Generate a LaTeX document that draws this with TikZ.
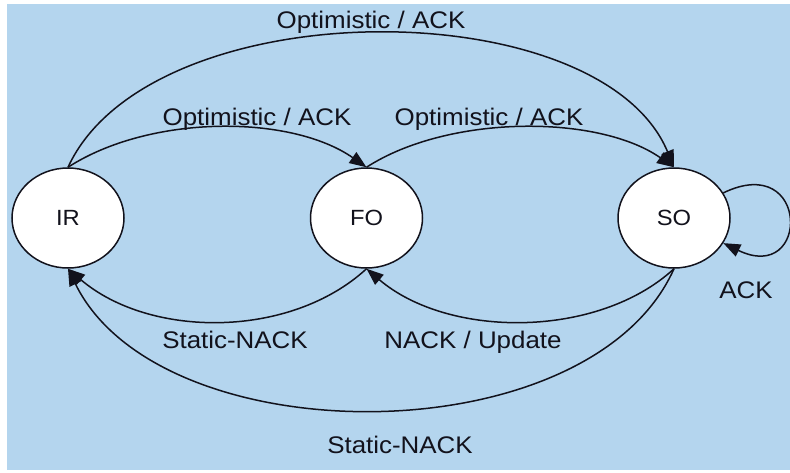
\documentclass[tikz,border=0pt]{standalone}
\usepackage{fontspec}
\setmainfont{Liberation Sans}
\newfontfamily\labfont[FakeStretch=1.08]{Liberation Sans}
\usetikzlibrary{arrows.meta,shapes.geometric}
\definecolor{bgblue}{RGB}{180,213,238}
\definecolor{ink}{RGB}{18,18,28}
\tikzset{
  state/.style={ellipse, draw=ink, line width=1.5pt, fill=white,
    minimum width=112pt, minimum height=100pt, inner sep=0pt,
    text=ink, font=\labfont\fontsize{22}{26}\selectfont},
  trans/.style={draw=ink, line width=1.5pt, -{Triangle[length=17pt,width=13pt]}},
  lab/.style={anchor=base, inner sep=0pt, text=ink,
    font=\labfont\fontsize{24}{28}\selectfont}
}
\begin{document}
\begin{tikzpicture}[x=1pt,y=-1pt]
  % page and blue background panel
  \useasboundingbox (0,0) rectangle (790,472);
  \fill[white] (0,0) rectangle (790,472);
  \fill[bgblue] (7,4) rectangle (790,470);

  % states
  \node[state] (IR) at (68,218)  {IR};
  \node[state] (FO) at (366.5,218) {FO};
  \node[state] (SO) at (674,218) {SO};

  % upper transitions
  \draw[trans] (IR.north) .. controls +(82,-178) and +(-74,-178) .. (SO.north);
  \draw[trans] (IR.north) .. controls +(82,-53) and +(-76,-53) .. (FO.north);
  \draw[trans] (FO.north) .. controls +(82,-53) and +(-76,-53) .. (SO.north);

  % lower transitions
  \draw[trans] (FO.south) .. controls +(-76,70) and +(82,70) .. (IR.south);
  \draw[trans] (SO.south) .. controls +(-76,70) and +(82,70) .. (FO.south);
  \draw[trans] (SO.south) .. controls +(-84,188) and +(92,188) .. (IR.south);

  % self loop on SO
  \draw[trans] (SO.27) .. controls +(87,-42) and +(87,42) .. (SO.-27);

  % transition labels
  \node[lab] (l1) at (371,28)  {Optimistic / ACK};
  \node[lab] (l2) at (257,125) {Optimistic / ACK};
  \node[lab] (l3) at (489,125) {Optimistic / ACK};
  \node[lab] (l4) at (235,348) {Static-NACK};
  \node[lab] (l5) at (473,348) {NACK / Update};
  \node[lab] (l6) at (400,453) {Static-NACK};
  \node[lab] (l7) at (746,298) {ACK};
\end{tikzpicture}
\end{document}
